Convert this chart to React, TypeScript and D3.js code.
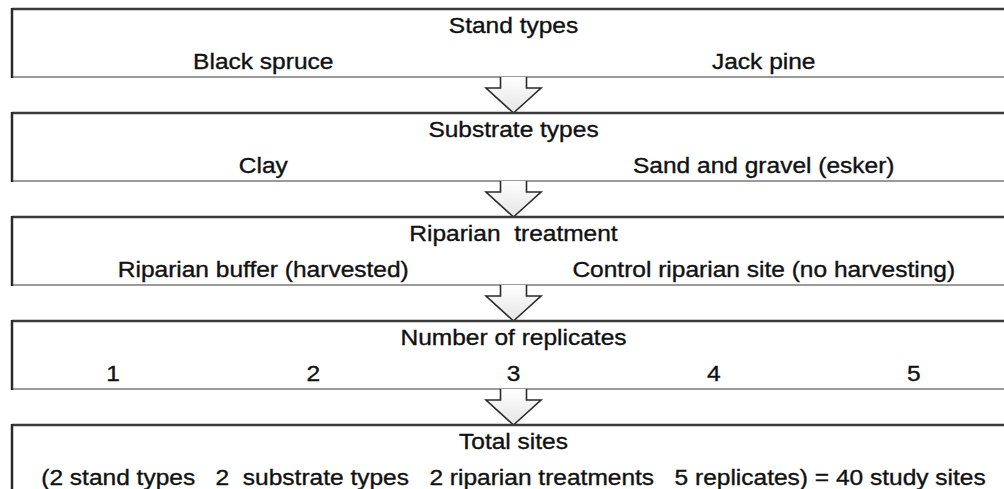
import React from "react";
import * as d3 from "d3";

const LEVEL_TITLES = ["Stand types", "Substrate types", "Riparian  treatment", "Number of replicates", "Total sites"];
const STAND_TYPES = ["Black spruce", "Jack pine"];
const SUBSTRATE_TYPES = ["Clay", "Sand and gravel (esker)"];
const RIPARIAN_TREATMENTS = ["Riparian buffer (harvested)", "Control riparian site (no harvesting)"];
const REPLICATES = ["1", "2", "3", "4", "5"];
const TOTAL_LINE = ["(2 stand types   2  substrate types   2 riparian treatments   5 replicates) = 40 study sites"];

const LEVEL_OPTIONS = [STAND_TYPES, SUBSTRATE_TYPES, RIPARIAN_TREATMENTS, REPLICATES, TOTAL_LINE];

const W = 1004;
const H = 489;
const BOX_LEFT = 12;
const BOX_H = 68;
const FONT = "'Liberation Sans', Arial, sans-serif";
const FS = 21.5;
const SX = 1.14;

function Label({ x, y, text }: { x: number; y: number; text: string }) {
  return (
    <text
      transform={`translate(${x},${y}) scale(${SX},1)`}
      textAnchor="middle"
      fontSize={FS}
      fill="#111"
      stroke="#111"
      strokeWidth={0.35}
      style={{ whiteSpace: "pre" }}
    >
      {text}
    </text>
  );
}

export default function App() {
  const y = d3.scaleBand<number>().domain(d3.range(LEVEL_TITLES.length)).range([9, 9 + 104 * 5]);
  const cx = 513.5;
  const arrow = (x: number, yTop: number, yBot: number) => {
    const sh = 13, hh = 27.5, headH = 25;
    const yb = yBot - headH;
    const p = d3.path();
    p.moveTo(x - sh, yTop);
    p.lineTo(x - sh, yb);
    p.lineTo(x - hh, yb);
    p.lineTo(x, yBot);
    p.lineTo(x + hh, yb);
    p.lineTo(x + sh, yb);
    p.lineTo(x + sh, yTop);
    return p.toString();
  };
  return (
    <svg width={W} height={H} style={{ position: "absolute", left: 0, top: 0, background: "#fff" }} fontFamily={FONT}>
      <defs>
        <linearGradient id="ag" x1="0" y1="0" x2="0" y2="1">
          <stop offset="0" stopColor="#ffffff" />
          <stop offset="1" stopColor="#e4e4e4" />
        </linearGradient>
      </defs>
      {LEVEL_TITLES.map((t, i) => {
        const top = y(i)!;
        const bot = top + BOX_H;
        const opts = LEVEL_OPTIONS[i];
        const xs = d3.scalePoint<string>().domain(opts).range([13, 1014]).padding(0.5);
        return (
          <g key={i}>
            <rect x={BOX_LEFT} y={top} width={W + 20} height={BOX_H} fill="#fff" />
            <line x1={BOX_LEFT} x2={W + 10} y1={bot} y2={bot} stroke="#9a9a9a" strokeWidth={2} />
            <line x1={BOX_LEFT} x2={W + 10} y1={top} y2={top} stroke="#3a3a3a" strokeWidth={2.5} />
            <line x1={BOX_LEFT} x2={BOX_LEFT} y1={top - 1} y2={bot + 1} stroke="#2a2a2a" strokeWidth={2.5} />
            <Label x={cx} y={top + 24} text={t} />
            {opts.map((o) => (
              <Label key={o} x={opts.length === 1 ? cx : (xs(o) as number)} y={top + 60} text={o} />
            ))}
            {i < LEVEL_TITLES.length - 1 && (
              <path d={arrow(cx, bot, y(i + 1)!)} fill="url(#ag)" stroke="#2a2a2a" strokeWidth={1.6} strokeLinejoin="miter" />
            )}
          </g>
        );
      })}
    </svg>
  );
}
